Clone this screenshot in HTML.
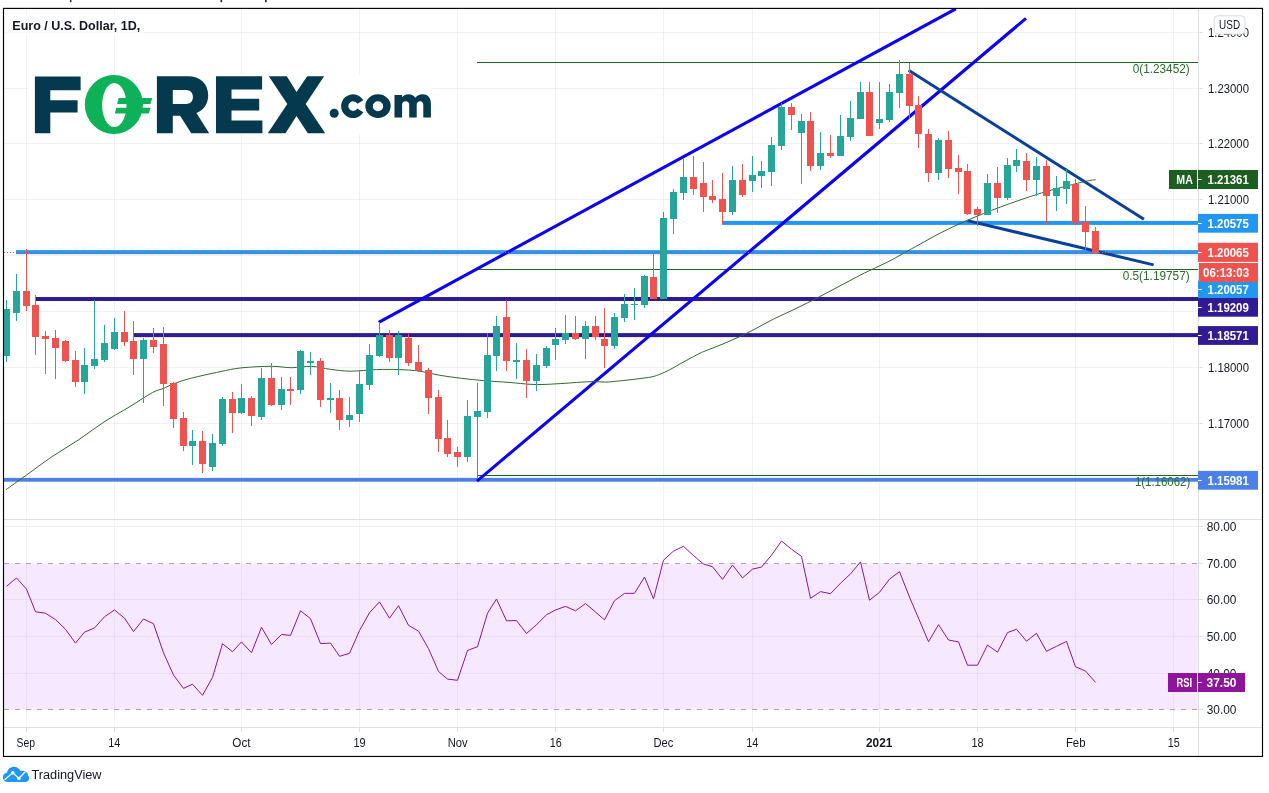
<!DOCTYPE html>
<html><head><meta charset="utf-8"><title>EUR/USD 1D</title>
<style>html,body{margin:0;padding:0;background:#fff}body{width:1269px;height:793px;overflow:hidden;font-family:"Liberation Sans",sans-serif}svg{display:block;will-change:transform;opacity:0.999}</style></head>
<body>
<svg width="1269" height="793" viewBox="0 0 1269 793" font-family="'Liberation Sans', sans-serif">
<rect width="1269" height="793" fill="#fff"/>
<g fill="#222">
<rect x="70" y="0" width="1.4" height="2.2"/>
<rect x="220.5" y="0" width="1.6" height="2.2"/>
<rect x="265" y="0" width="1.6" height="2.2"/>
</g>
<g shape-rendering="crispEdges" fill="#000" fill-opacity="0.055">
<rect x="26" y="9" width="1" height="718"/>
<rect x="114" y="9" width="1" height="718"/>
<rect x="241" y="9" width="1" height="718"/>
<rect x="359" y="9" width="1" height="718"/>
<rect x="457" y="9" width="1" height="718"/>
<rect x="555" y="9" width="1" height="718"/>
<rect x="663" y="9" width="1" height="718"/>
<rect x="752" y="9" width="1" height="718"/>
<rect x="879" y="9" width="1" height="718"/>
<rect x="977" y="9" width="1" height="718"/>
<rect x="1075" y="9" width="1" height="718"/>
<rect x="1173" y="9" width="1" height="718"/>
<rect x="4" y="32" width="1194" height="1"/>
<rect x="4" y="88" width="1194" height="1"/>
<rect x="4" y="143" width="1194" height="1"/>
<rect x="4" y="199" width="1194" height="1"/>
<rect x="4" y="255" width="1194" height="1"/>
<rect x="4" y="311" width="1194" height="1"/>
<rect x="4" y="367" width="1194" height="1"/>
<rect x="4" y="423" width="1194" height="1"/>
<rect x="4" y="479" width="1194" height="1"/>
</g>
<rect x="4" y="563.5" width="1194" height="146" fill="#f5e8ff"/>
<g shape-rendering="crispEdges">
<rect x="4" y="526" width="1194" height="1" fill="#f0f0f3"/>
<rect x="4" y="599" width="1194" height="1" fill="#eadef3"/>
<rect x="4" y="636" width="1194" height="1" fill="#eadef3"/>
<rect x="4" y="673" width="1194" height="1" fill="#eadef3"/>
<rect x="26" y="564" width="1" height="145" fill="#eadef3"/>
<rect x="114" y="564" width="1" height="145" fill="#eadef3"/>
<rect x="241" y="564" width="1" height="145" fill="#eadef3"/>
<rect x="359" y="564" width="1" height="145" fill="#eadef3"/>
<rect x="457" y="564" width="1" height="145" fill="#eadef3"/>
<rect x="555" y="564" width="1" height="145" fill="#eadef3"/>
<rect x="663" y="564" width="1" height="145" fill="#eadef3"/>
<rect x="752" y="564" width="1" height="145" fill="#eadef3"/>
<rect x="879" y="564" width="1" height="145" fill="#eadef3"/>
<rect x="977" y="564" width="1" height="145" fill="#eadef3"/>
<rect x="1075" y="564" width="1" height="145" fill="#eadef3"/>
<rect x="1173" y="564" width="1" height="145" fill="#eadef3"/>
</g>
<line x1="4" y1="563.5" x2="1198" y2="563.5" stroke="#a7a1b1" stroke-width="1" stroke-dasharray="5 6"/>
<line x1="4" y1="709.5" x2="1198" y2="709.5" stroke="#a7a1b1" stroke-width="1" stroke-dasharray="5 6"/>
<rect x="4" y="14" width="140" height="22" fill="#fff" fill-opacity="0.6"/>
<text x="12.3" y="29.8" font-size="12" fill="#131722" font-weight="bold" textLength="128" lengthAdjust="spacingAndGlyphs">Euro / U.S. Dollar, 1D,</text>
<rect x="27.5" y="74.3" width="404.8" height="60" fill="#fff"/>
<g fill="#04394e">
<path d="M34.9,76.4H80.6V90.2H50.3V100.2H77.6V112.6H50.3V133.3H34.9Z"/>
<path fill-rule="evenodd" d="M156.9,76.3H187.5C200.5,76.3 208.2,83.8 208.2,95.3C208.2,103.9 203.9,110 196.4,113L209.2,133.3H191.2L180.1,115.7H172.8V133.3H156.9ZM172.8,90V103.9H186C190.6,103.9 192.9,101 192.9,97C192.9,92.9 190.6,90 186,90Z"/>
<path d="M216,76.3H262.1V89.5H231.5V98.7H259.2V110.5H231.5V120.6H262.4V133.3H216Z"/>
<path d="M268.8,76.3H286.8L296.5,92.1L307.2,76.3H324.1L305.7,103.9L325.2,133.3H307.8L296.5,116.1L285.5,133.3H267.8L287.3,103.9Z"/>
<circle cx="334.2" cy="113.3" r="4.5"/>
<path d="M363.3,100.2A11.9,11.9 0 1 0 363.3,112.2L357.3,108.4A4.8,4.8 0 1 1 357.3,103.8Z"/>
<path fill-rule="evenodd" d="M378,94.2A12.7,11.9 0 1 0 378,118A12.7,11.9 0 1 0 378,94.2ZM378,101.2A5.2,5 0 1 1 378,111.2A5.2,5 0 1 1 378,101.2Z"/>
<path d="M394.5,94.9V117.6H402.1V105C402.1,102.5 403.5,101.3 405.6,101.3C407.8,101.3 409.2,102.5 409.2,105V117.6H416.7V105C416.7,102.5 418.1,101.3 420,101.3C422,101.3 423.3,102.5 423.3,105V117.6H430.9V103.5C430.9,97.5 427.5,94.2 422.5,94.2C419.5,94.2 417,95.5 415.3,97.8C414,95.5 411.5,94.2 408.5,94.2C405.8,94.2 403.5,95.3 402.1,97.2V94.9Z"/>
</g>
<g fill="#0cb158">
<path fill-rule="evenodd" d="M113.9,75.1A29.1,29.4 0 1 0 113.9,133.9A29.1,29.4 0 1 0 113.9,75.1ZM114.3,83.1A12.2,22 0 1 1 114.3,127.1A12.2,22 0 1 1 114.3,83.1Z"/>
<path d="M118.6,98.1H152.2L150.4,104H117.1Z"/>
<path d="M116.3,107.7H150.6L148.8,113.4H114.8Z"/>
</g>
<g shape-rendering="crispEdges" fill="#1e6323">
<rect x="477" y="62" width="721" height="1"/>
<rect x="477" y="269" width="721" height="1"/>
<rect x="477" y="475" width="721" height="1"/>
</g>
<rect x="4" y="477.9" width="1194" height="3.8" fill="#4a80e8"/>
<rect x="36" y="297" width="1162" height="4" fill="#311b92"/>
<rect x="134" y="333.1" width="1064" height="4" fill="#311b92"/>
<rect x="16" y="250.15" width="1182" height="4" fill="#2196f3"/>
<rect x="722" y="220.9" width="476" height="4" fill="#2196f3"/>
<clipPath id="mp"><rect x="4" y="9" width="1194" height="510"/></clipPath>
<g stroke-linecap="butt" fill="none" clip-path="url(#mp)">
<line x1="378.7" y1="322.3" x2="955.8" y2="8.8" stroke="#0a00f5" stroke-width="3.1"/>
<line x1="477" y1="481.1" x2="1026" y2="18.4" stroke="#0a00f5" stroke-width="3.1"/>
<line x1="908.6" y1="70.3" x2="1143.9" y2="219.3" stroke="#0a409c" stroke-width="3"/>
<line x1="967.4" y1="220.6" x2="1153.6" y2="264.9" stroke="#0a409c" stroke-width="3"/>
</g>
<path d="M6.1,489.6C9.42,487.23 18.35,480.88 26,475.4C33.65,469.92 43.33,462.57 52,456.7C60.67,450.83 69.33,445.98 78,440.2C86.67,434.42 95.33,427.62 104,422C112.67,416.38 121.9,411.42 130,406.5C138.1,401.58 147.05,395.5 152.6,392.5C158.15,389.5 159.83,389.93 163.3,388.5C166.77,387.07 168.87,385.58 173.4,383.9C177.93,382.22 182.73,380.43 190.5,378.4C198.27,376.37 211.58,373.45 220,371.7C228.42,369.95 232.45,368.8 241,367.9C249.55,367 262.88,366.33 271.3,366.3C279.72,366.27 284.78,367.68 291.5,367.7C298.22,367.72 305.15,366.13 311.6,366.4C318.05,366.67 323.73,368.5 330.2,369.3C336.67,370.1 342.67,371.15 350.4,371.2C358.13,371.25 368.53,369.87 376.6,369.6C384.67,369.33 391.73,369.37 398.8,369.6C405.87,369.83 412.27,370.07 419,371C425.73,371.93 432.13,373.98 439.2,375.2C446.27,376.42 454,377.4 461.4,378.3C468.8,379.2 475.5,379.9 483.6,380.6C491.7,381.3 502.27,381.88 510,382.5C517.73,383.12 524.17,383.98 530,384.3C535.83,384.62 539.17,384.57 545,384.4C550.83,384.23 559.17,383.67 565,383.3C570.83,382.93 575.13,382.48 580,382.2C584.87,381.92 589.95,381.62 594.2,381.6C598.45,381.58 601.57,382.18 605.5,382.1C609.43,382.02 612.6,381.62 617.8,381.1C623,380.58 631,379.72 636.7,379C642.4,378.28 648.05,377.63 652,376.8C655.95,375.97 657.43,375.18 660.4,374C663.37,372.82 665.87,371.75 669.8,369.7C673.73,367.65 678.97,364.45 684,361.7C689.03,358.95 696.43,355 700,353.2C703.57,351.4 700.72,352.8 705.4,350.9C710.08,349 720.53,345.08 728.1,341.8C735.67,338.52 743.23,334.98 750.8,331.2C758.37,327.42 765.95,322.88 773.5,319.1C781.05,315.32 788.55,312.17 796.1,308.5C803.65,304.83 811.23,301 818.8,297.1C826.37,293.2 833.93,289.1 841.5,285.1C849.07,281.1 856.63,276.88 864.2,273.1C871.77,269.32 879.33,266.27 886.9,262.4C894.47,258.53 904.08,252.93 909.6,249.9C915.12,246.87 914.9,247 920,244.2C925.1,241.4 932.3,237.08 940.2,233.1C948.1,229.12 957.32,224.67 967.4,220.3C977.48,215.93 988.42,211.43 1000.7,206.9C1012.98,202.37 1027.63,197.2 1041.1,193.1C1054.57,189 1072.42,184.55 1081.5,182.3C1090.58,180.05 1093.25,180.05 1095.6,179.6" fill="none" stroke="#2f6b2c" stroke-width="1" stroke-linejoin="round"/>
<g shape-rendering="crispEdges">
<rect x="6" y="300" width="1" height="62" fill="#26a69a"/>
<rect x="4" y="309" width="6" height="47" fill="#26a69a"/>
<rect x="16" y="274" width="1" height="47" fill="#26a69a"/>
<rect x="13" y="291" width="7" height="22" fill="#26a69a"/>
<rect x="26" y="249" width="1" height="62" fill="#ef5350"/>
<rect x="23" y="291" width="7" height="15" fill="#ef5350"/>
<rect x="35" y="295" width="1" height="60" fill="#ef5350"/>
<rect x="32" y="305" width="7" height="32" fill="#ef5350"/>
<rect x="45" y="331" width="1" height="43" fill="#ef5350"/>
<rect x="42" y="336" width="7" height="3" fill="#ef5350"/>
<rect x="55" y="330" width="1" height="49" fill="#ef5350"/>
<rect x="52" y="338" width="7" height="10" fill="#ef5350"/>
<rect x="65" y="340" width="1" height="22" fill="#ef5350"/>
<rect x="62" y="341" width="7" height="20" fill="#ef5350"/>
<rect x="75" y="351" width="1" height="36" fill="#ef5350"/>
<rect x="72" y="360" width="7" height="22" fill="#ef5350"/>
<rect x="84" y="348" width="1" height="46" fill="#26a69a"/>
<rect x="81" y="365" width="7" height="17" fill="#26a69a"/>
<rect x="94" y="300" width="1" height="69" fill="#26a69a"/>
<rect x="91" y="359" width="7" height="7" fill="#26a69a"/>
<rect x="104" y="325" width="1" height="37" fill="#26a69a"/>
<rect x="101" y="343" width="7" height="17" fill="#26a69a"/>
<rect x="114" y="318" width="1" height="32" fill="#26a69a"/>
<rect x="111" y="332" width="7" height="17" fill="#26a69a"/>
<rect x="124" y="311" width="1" height="35" fill="#ef5350"/>
<rect x="121" y="332" width="7" height="10" fill="#ef5350"/>
<rect x="133" y="321" width="1" height="54" fill="#ef5350"/>
<rect x="130" y="341" width="7" height="18" fill="#ef5350"/>
<rect x="143" y="338" width="1" height="65" fill="#26a69a"/>
<rect x="140" y="340" width="7" height="19" fill="#26a69a"/>
<rect x="153" y="328" width="1" height="25" fill="#ef5350"/>
<rect x="150" y="340" width="7" height="7" fill="#ef5350"/>
<rect x="163" y="327" width="1" height="79" fill="#ef5350"/>
<rect x="160" y="344" width="7" height="40" fill="#ef5350"/>
<rect x="173" y="382" width="1" height="46" fill="#ef5350"/>
<rect x="170" y="383" width="7" height="36" fill="#ef5350"/>
<rect x="183" y="412" width="1" height="39" fill="#ef5350"/>
<rect x="180" y="418" width="7" height="28" fill="#ef5350"/>
<rect x="192" y="430" width="1" height="35" fill="#26a69a"/>
<rect x="189" y="441" width="7" height="5" fill="#26a69a"/>
<rect x="202" y="431" width="1" height="42" fill="#ef5350"/>
<rect x="199" y="441" width="7" height="23" fill="#ef5350"/>
<rect x="212" y="434" width="1" height="37" fill="#26a69a"/>
<rect x="209" y="443" width="7" height="24" fill="#26a69a"/>
<rect x="222" y="397" width="1" height="49" fill="#26a69a"/>
<rect x="219" y="399" width="7" height="45" fill="#26a69a"/>
<rect x="232" y="392" width="1" height="41" fill="#ef5350"/>
<rect x="229" y="399" width="7" height="14" fill="#ef5350"/>
<rect x="241" y="384" width="1" height="30" fill="#26a69a"/>
<rect x="238" y="398" width="7" height="15" fill="#26a69a"/>
<rect x="251" y="396" width="1" height="30" fill="#ef5350"/>
<rect x="248" y="398" width="7" height="18" fill="#ef5350"/>
<rect x="261" y="368" width="1" height="52" fill="#26a69a"/>
<rect x="258" y="378" width="7" height="39" fill="#26a69a"/>
<rect x="271" y="363" width="1" height="43" fill="#ef5350"/>
<rect x="268" y="378" width="7" height="27" fill="#ef5350"/>
<rect x="281" y="377" width="1" height="33" fill="#26a69a"/>
<rect x="278" y="389" width="7" height="16" fill="#26a69a"/>
<rect x="290" y="377" width="1" height="28" fill="#ef5350"/>
<rect x="287" y="389" width="7" height="2" fill="#ef5350"/>
<rect x="300" y="350" width="1" height="44" fill="#26a69a"/>
<rect x="297" y="351" width="7" height="39" fill="#26a69a"/>
<rect x="310" y="352" width="1" height="23" fill="#26a69a"/>
<rect x="307" y="361" width="7" height="2" fill="#26a69a"/>
<rect x="320" y="358" width="1" height="49" fill="#ef5350"/>
<rect x="317" y="361" width="7" height="39" fill="#ef5350"/>
<rect x="330" y="383" width="1" height="30" fill="#26a69a"/>
<rect x="327" y="398" width="7" height="2" fill="#26a69a"/>
<rect x="339" y="390" width="1" height="40" fill="#ef5350"/>
<rect x="336" y="398" width="7" height="22" fill="#ef5350"/>
<rect x="349" y="397" width="1" height="30" fill="#26a69a"/>
<rect x="346" y="415" width="7" height="5" fill="#26a69a"/>
<rect x="359" y="370" width="1" height="52" fill="#26a69a"/>
<rect x="356" y="384" width="7" height="30" fill="#26a69a"/>
<rect x="369" y="344" width="1" height="46" fill="#26a69a"/>
<rect x="366" y="355" width="7" height="30" fill="#26a69a"/>
<rect x="379" y="322" width="1" height="35" fill="#26a69a"/>
<rect x="376" y="335" width="7" height="21" fill="#26a69a"/>
<rect x="389" y="330" width="1" height="32" fill="#ef5350"/>
<rect x="386" y="335" width="7" height="23" fill="#ef5350"/>
<rect x="398" y="331" width="1" height="44" fill="#26a69a"/>
<rect x="395" y="335" width="7" height="23" fill="#26a69a"/>
<rect x="408" y="334" width="1" height="32" fill="#ef5350"/>
<rect x="405" y="338" width="7" height="25" fill="#ef5350"/>
<rect x="418" y="345" width="1" height="27" fill="#ef5350"/>
<rect x="415" y="362" width="7" height="9" fill="#ef5350"/>
<rect x="428" y="368" width="1" height="46" fill="#ef5350"/>
<rect x="425" y="370" width="7" height="28" fill="#ef5350"/>
<rect x="438" y="390" width="1" height="62" fill="#ef5350"/>
<rect x="435" y="397" width="7" height="42" fill="#ef5350"/>
<rect x="447" y="420" width="1" height="37" fill="#ef5350"/>
<rect x="444" y="438" width="7" height="16" fill="#ef5350"/>
<rect x="457" y="447" width="1" height="20" fill="#ef5350"/>
<rect x="454" y="452" width="7" height="5" fill="#ef5350"/>
<rect x="467" y="400" width="1" height="62" fill="#26a69a"/>
<rect x="464" y="416" width="7" height="41" fill="#26a69a"/>
<rect x="477" y="383" width="1" height="95" fill="#26a69a"/>
<rect x="474" y="411" width="7" height="6" fill="#26a69a"/>
<rect x="487" y="333" width="1" height="85" fill="#26a69a"/>
<rect x="484" y="355" width="7" height="57" fill="#26a69a"/>
<rect x="496" y="316" width="1" height="55" fill="#26a69a"/>
<rect x="493" y="326" width="7" height="30" fill="#26a69a"/>
<rect x="506" y="300" width="1" height="71" fill="#ef5350"/>
<rect x="503" y="317" width="7" height="44" fill="#ef5350"/>
<rect x="516" y="343" width="1" height="36" fill="#26a69a"/>
<rect x="513" y="360" width="7" height="2" fill="#26a69a"/>
<rect x="526" y="349" width="1" height="49" fill="#ef5350"/>
<rect x="523" y="360" width="7" height="21" fill="#ef5350"/>
<rect x="536" y="354" width="1" height="37" fill="#26a69a"/>
<rect x="533" y="365" width="7" height="16" fill="#26a69a"/>
<rect x="546" y="346" width="1" height="22" fill="#26a69a"/>
<rect x="543" y="348" width="7" height="18" fill="#26a69a"/>
<rect x="555" y="328" width="1" height="32" fill="#26a69a"/>
<rect x="552" y="339" width="7" height="6" fill="#26a69a"/>
<rect x="565" y="315" width="1" height="29" fill="#26a69a"/>
<rect x="562" y="333" width="7" height="7" fill="#26a69a"/>
<rect x="575" y="316" width="1" height="24" fill="#ef5350"/>
<rect x="572" y="333" width="7" height="6" fill="#ef5350"/>
<rect x="585" y="321" width="1" height="38" fill="#26a69a"/>
<rect x="582" y="326" width="7" height="13" fill="#26a69a"/>
<rect x="595" y="316" width="1" height="24" fill="#ef5350"/>
<rect x="592" y="326" width="7" height="11" fill="#ef5350"/>
<rect x="604" y="308" width="1" height="60" fill="#ef5350"/>
<rect x="601" y="339" width="7" height="7" fill="#ef5350"/>
<rect x="614" y="313" width="1" height="36" fill="#26a69a"/>
<rect x="611" y="317" width="7" height="29" fill="#26a69a"/>
<rect x="624" y="294" width="1" height="28" fill="#26a69a"/>
<rect x="621" y="304" width="7" height="14" fill="#26a69a"/>
<rect x="634" y="288" width="1" height="32" fill="#26a69a"/>
<rect x="631" y="304" width="7" height="1" fill="#26a69a"/>
<rect x="644" y="275" width="1" height="33" fill="#26a69a"/>
<rect x="641" y="276" width="7" height="29" fill="#26a69a"/>
<rect x="653" y="252" width="1" height="47" fill="#ef5350"/>
<rect x="650" y="277" width="7" height="22" fill="#ef5350"/>
<rect x="663" y="212" width="1" height="87" fill="#26a69a"/>
<rect x="660" y="218" width="7" height="81" fill="#26a69a"/>
<rect x="673" y="189" width="1" height="45" fill="#26a69a"/>
<rect x="670" y="192" width="7" height="27" fill="#26a69a"/>
<rect x="683" y="159" width="1" height="41" fill="#26a69a"/>
<rect x="680" y="177" width="7" height="16" fill="#26a69a"/>
<rect x="693" y="156" width="1" height="39" fill="#ef5350"/>
<rect x="690" y="177" width="7" height="12" fill="#ef5350"/>
<rect x="703" y="162" width="1" height="50" fill="#ef5350"/>
<rect x="700" y="183" width="7" height="14" fill="#ef5350"/>
<rect x="712" y="180" width="1" height="23" fill="#ef5350"/>
<rect x="709" y="196" width="7" height="4" fill="#ef5350"/>
<rect x="722" y="173" width="1" height="51" fill="#ef5350"/>
<rect x="719" y="199" width="7" height="13" fill="#ef5350"/>
<rect x="732" y="166" width="1" height="49" fill="#26a69a"/>
<rect x="729" y="180" width="7" height="32" fill="#26a69a"/>
<rect x="742" y="164" width="1" height="33" fill="#ef5350"/>
<rect x="739" y="180" width="7" height="15" fill="#ef5350"/>
<rect x="752" y="156" width="1" height="36" fill="#26a69a"/>
<rect x="749" y="175" width="7" height="6" fill="#26a69a"/>
<rect x="761" y="161" width="1" height="27" fill="#26a69a"/>
<rect x="758" y="171" width="7" height="5" fill="#26a69a"/>
<rect x="771" y="137" width="1" height="49" fill="#26a69a"/>
<rect x="768" y="145" width="7" height="27" fill="#26a69a"/>
<rect x="781" y="103" width="1" height="47" fill="#26a69a"/>
<rect x="778" y="107" width="7" height="39" fill="#26a69a"/>
<rect x="791" y="103" width="1" height="27" fill="#ef5350"/>
<rect x="788" y="107" width="7" height="8" fill="#ef5350"/>
<rect x="801" y="114" width="1" height="70" fill="#26a69a"/>
<rect x="798" y="121" width="7" height="12" fill="#26a69a"/>
<rect x="810" y="112" width="1" height="59" fill="#ef5350"/>
<rect x="807" y="121" width="7" height="45" fill="#ef5350"/>
<rect x="820" y="132" width="1" height="38" fill="#26a69a"/>
<rect x="817" y="153" width="7" height="13" fill="#26a69a"/>
<rect x="830" y="135" width="1" height="23" fill="#ef5350"/>
<rect x="827" y="153" width="7" height="3" fill="#ef5350"/>
<rect x="840" y="115" width="1" height="41" fill="#26a69a"/>
<rect x="837" y="136" width="7" height="20" fill="#26a69a"/>
<rect x="850" y="101" width="1" height="40" fill="#26a69a"/>
<rect x="847" y="118" width="7" height="19" fill="#26a69a"/>
<rect x="860" y="82" width="1" height="37" fill="#26a69a"/>
<rect x="857" y="92" width="7" height="27" fill="#26a69a"/>
<rect x="869" y="82" width="1" height="54" fill="#ef5350"/>
<rect x="866" y="92" width="7" height="44" fill="#ef5350"/>
<rect x="879" y="82" width="1" height="47" fill="#26a69a"/>
<rect x="876" y="119" width="7" height="4" fill="#26a69a"/>
<rect x="889" y="84" width="1" height="38" fill="#26a69a"/>
<rect x="886" y="92" width="7" height="28" fill="#26a69a"/>
<rect x="899" y="60" width="1" height="48" fill="#26a69a"/>
<rect x="896" y="74" width="7" height="19" fill="#26a69a"/>
<rect x="909" y="63" width="1" height="56" fill="#ef5350"/>
<rect x="906" y="74" width="7" height="32" fill="#ef5350"/>
<rect x="918" y="96" width="1" height="52" fill="#ef5350"/>
<rect x="915" y="105" width="7" height="29" fill="#ef5350"/>
<rect x="928" y="129" width="1" height="53" fill="#ef5350"/>
<rect x="925" y="134" width="7" height="39" fill="#ef5350"/>
<rect x="938" y="138" width="1" height="42" fill="#26a69a"/>
<rect x="935" y="140" width="7" height="33" fill="#26a69a"/>
<rect x="948" y="131" width="1" height="47" fill="#ef5350"/>
<rect x="945" y="140" width="7" height="29" fill="#ef5350"/>
<rect x="958" y="155" width="1" height="39" fill="#ef5350"/>
<rect x="955" y="168" width="7" height="4" fill="#ef5350"/>
<rect x="967" y="164" width="1" height="51" fill="#ef5350"/>
<rect x="964" y="171" width="7" height="43" fill="#ef5350"/>
<rect x="977" y="207" width="1" height="19" fill="#ef5350"/>
<rect x="974" y="209" width="7" height="6" fill="#ef5350"/>
<rect x="987" y="174" width="1" height="41" fill="#26a69a"/>
<rect x="984" y="183" width="7" height="32" fill="#26a69a"/>
<rect x="997" y="167" width="1" height="46" fill="#ef5350"/>
<rect x="994" y="183" width="7" height="15" fill="#ef5350"/>
<rect x="1007" y="158" width="1" height="42" fill="#26a69a"/>
<rect x="1004" y="165" width="7" height="33" fill="#26a69a"/>
<rect x="1016" y="149" width="1" height="23" fill="#26a69a"/>
<rect x="1013" y="160" width="7" height="6" fill="#26a69a"/>
<rect x="1026" y="153" width="1" height="38" fill="#ef5350"/>
<rect x="1023" y="161" width="7" height="19" fill="#ef5350"/>
<rect x="1036" y="157" width="1" height="39" fill="#26a69a"/>
<rect x="1033" y="166" width="7" height="14" fill="#26a69a"/>
<rect x="1046" y="160" width="1" height="64" fill="#ef5350"/>
<rect x="1043" y="166" width="7" height="30" fill="#ef5350"/>
<rect x="1056" y="176" width="1" height="35" fill="#26a69a"/>
<rect x="1053" y="188" width="7" height="8" fill="#26a69a"/>
<rect x="1066" y="168" width="1" height="36" fill="#26a69a"/>
<rect x="1063" y="181" width="7" height="8" fill="#26a69a"/>
<rect x="1075" y="179" width="1" height="46" fill="#ef5350"/>
<rect x="1072" y="184" width="7" height="39" fill="#ef5350"/>
<rect x="1085" y="206" width="1" height="44" fill="#ef5350"/>
<rect x="1082" y="222" width="7" height="10" fill="#ef5350"/>
<rect x="1095" y="227" width="1" height="27" fill="#ef5350"/>
<rect x="1092" y="231" width="7" height="22" fill="#ef5350"/>
</g>
<line x1="4" y1="252.5" x2="1198" y2="252.5" stroke="#ef5350" stroke-width="1" stroke-dasharray="1 2"/>
<text x="1189.7" y="73.2" font-size="12" fill="#2a6d2f" text-anchor="end" textLength="57" lengthAdjust="spacingAndGlyphs">0(1.23452)</text>
<text x="1189.7" y="280.2" font-size="12" fill="#2a6d2f" text-anchor="end" textLength="67" lengthAdjust="spacingAndGlyphs">0.5(1.19757)</text>
<text x="1190.2" y="486.3" font-size="12" fill="#2a6d2f" text-anchor="end" textLength="55.3" lengthAdjust="spacingAndGlyphs">1(1.16062)</text>
<polyline points="6.5,586.3 16.5,578 26.5,589.1 35.5,611.8 45.5,613.2 55.5,619.6 65.5,629.3 75.5,643.1 84.5,632.1 94.5,627.9 104.5,616.8 114.5,609.9 124.5,618.2 133.5,631.5 143.5,619 153.5,623.7 163.5,652.9 173.5,675 183.5,688.4 192.5,684.2 202.5,695.3 212.5,677.4 222.5,643.8 232.5,651.7 241.5,641.9 251.5,652.7 261.5,627.3 271.5,644.5 281.5,634.5 290.5,635.4 300.5,610.8 310.5,618.7 320.5,643.6 330.5,643.1 339.5,656.3 349.5,653.4 359.5,630.6 369.5,612.7 379.5,601.9 389.5,618.2 398.5,605.7 408.5,625.4 418.5,631.1 428.5,648.6 438.5,671.4 447.5,679.1 457.5,680.3 467.5,650.5 477.5,646.7 487.5,613.2 496.5,599 506.5,620.8 516.5,620.6 526.5,633.5 536.5,624.7 546.5,614.8 555.5,610 565.5,606.4 575.5,610.8 585.5,603.6 595.5,612 604.5,619.9 614.5,600.7 624.5,593.4 634.5,593.3 644.5,577 653.5,598.8 663.5,560.2 673.5,551.1 683.5,546.3 693.5,555.6 703.5,564 712.5,566.7 722.5,579.4 732.5,565 742.5,577.9 752.5,569.1 761.5,567.1 771.5,555.2 781.5,541 791.5,549.2 801.5,556.4 810.5,598.3 820.5,591.6 830.5,593.7 840.5,583.2 850.5,573.9 860.5,561.9 869.5,600.2 879.5,592.3 889.5,579.1 899.5,571.7 909.5,597.1 918.5,618.2 928.5,641.7 938.5,624.7 948.5,640 958.5,641.9 967.5,665.2 977.5,665.2 987.5,645 997.5,652.2 1007.5,632.6 1016.5,629.2 1026.5,641.2 1036.5,633.3 1046.5,651.3 1056.5,646.3 1066.5,641.4 1075.5,666.8 1085.5,671 1095.5,682.4" fill="none" stroke="#8e1599" stroke-width="1" stroke-linejoin="round"/>
<g shape-rendering="crispEdges" fill="#dfdfe2">
<rect x="4" y="519" width="1259" height="1"/>
<rect x="4" y="727" width="1259" height="1"/>
<rect x="1198" y="9" width="1" height="747"/>
<rect x="1199" y="32" width="4" height="1"/>
<rect x="1199" y="88" width="4" height="1"/>
<rect x="1199" y="143" width="4" height="1"/>
<rect x="1199" y="199" width="4" height="1"/>
<rect x="1199" y="367" width="4" height="1"/>
<rect x="1199" y="423" width="4" height="1"/>
<rect x="1199" y="526" width="4" height="1"/>
<rect x="1199" y="563" width="4" height="1"/>
<rect x="1199" y="599" width="4" height="1"/>
<rect x="1199" y="636" width="4" height="1"/>
<rect x="1199" y="709" width="4" height="1"/>
<rect x="26" y="728" width="1" height="4"/>
<rect x="114" y="728" width="1" height="4"/>
<rect x="241" y="728" width="1" height="4"/>
<rect x="359" y="728" width="1" height="4"/>
<rect x="457" y="728" width="1" height="4"/>
<rect x="555" y="728" width="1" height="4"/>
<rect x="663" y="728" width="1" height="4"/>
<rect x="752" y="728" width="1" height="4"/>
<rect x="879" y="728" width="1" height="4"/>
<rect x="977" y="728" width="1" height="4"/>
<rect x="1075" y="728" width="1" height="4"/>
<rect x="1173" y="728" width="1" height="4"/>
</g>
<text x="1208" y="36.8" font-size="12" fill="#131722" textLength="41" lengthAdjust="spacingAndGlyphs">1.24000</text>
<text x="1208" y="92.8" font-size="12" fill="#131722" textLength="41" lengthAdjust="spacingAndGlyphs">1.23000</text>
<text x="1208" y="147.9" font-size="12" fill="#131722" textLength="41" lengthAdjust="spacingAndGlyphs">1.22000</text>
<text x="1208" y="203.7" font-size="12" fill="#131722" textLength="41" lengthAdjust="spacingAndGlyphs">1.21000</text>
<text x="1208" y="371.6" font-size="12" fill="#131722" textLength="41" lengthAdjust="spacingAndGlyphs">1.18000</text>
<text x="1208" y="427.8" font-size="12" fill="#131722" textLength="41" lengthAdjust="spacingAndGlyphs">1.17000</text>
<text x="1206.7" y="530.9" font-size="12" fill="#131722" textLength="29.8" lengthAdjust="spacingAndGlyphs">80.00</text>
<text x="1206.7" y="567.8" font-size="12" fill="#131722" textLength="29.8" lengthAdjust="spacingAndGlyphs">70.00</text>
<text x="1206.7" y="604.3" font-size="12" fill="#131722" textLength="29.8" lengthAdjust="spacingAndGlyphs">60.00</text>
<text x="1206.7" y="641.1" font-size="12" fill="#131722" textLength="29.8" lengthAdjust="spacingAndGlyphs">50.00</text>
<text x="1206.7" y="677.5" font-size="12" fill="#131722" textLength="29.8" lengthAdjust="spacingAndGlyphs">40.00</text>
<text x="1206.7" y="714" font-size="12" fill="#131722" textLength="29.8" lengthAdjust="spacingAndGlyphs">30.00</text>
<rect x="1214.2" y="15.8" width="30.8" height="18.3" rx="4" fill="#fff" stroke="#d6d9e0" stroke-width="1"/>
<text x="1229.6" y="28.9" font-size="12" fill="#131722" text-anchor="middle" textLength="21" lengthAdjust="spacingAndGlyphs">USD</text>
<text x="25.8" y="747.3" font-size="12" fill="#131722" text-anchor="middle" textLength="18.5" lengthAdjust="spacingAndGlyphs">Sep</text>
<text x="114.3" y="747.3" font-size="12" fill="#131722" text-anchor="middle" textLength="12.2" lengthAdjust="spacingAndGlyphs">14</text>
<text x="241.4" y="747.3" font-size="12" fill="#131722" text-anchor="middle" textLength="18.2" lengthAdjust="spacingAndGlyphs">Oct</text>
<text x="359.5" y="747.3" font-size="12" fill="#131722" text-anchor="middle" textLength="12.2" lengthAdjust="spacingAndGlyphs">19</text>
<text x="457.7" y="747.3" font-size="12" fill="#131722" text-anchor="middle" textLength="19.9" lengthAdjust="spacingAndGlyphs">Nov</text>
<text x="555.7" y="747.3" font-size="12" fill="#131722" text-anchor="middle" textLength="12" lengthAdjust="spacingAndGlyphs">16</text>
<text x="663.4" y="747.3" font-size="12" fill="#131722" text-anchor="middle" textLength="19.9" lengthAdjust="spacingAndGlyphs">Dec</text>
<text x="752.2" y="747.3" font-size="12" fill="#131722" text-anchor="middle" textLength="12" lengthAdjust="spacingAndGlyphs">14</text>
<text x="879.2" y="747.3" font-size="12" fill="#131722" text-anchor="middle" font-weight="bold" textLength="26.3" lengthAdjust="spacingAndGlyphs">2021</text>
<text x="977.6" y="747.3" font-size="12" fill="#131722" text-anchor="middle" textLength="12.2" lengthAdjust="spacingAndGlyphs">18</text>
<text x="1075.7" y="747.3" font-size="12" fill="#131722" text-anchor="middle" textLength="19.6" lengthAdjust="spacingAndGlyphs">Feb</text>
<text x="1173.8" y="747.3" font-size="12" fill="#131722" text-anchor="middle" textLength="12" lengthAdjust="spacingAndGlyphs">15</text>
<rect x="1169" y="170" width="28" height="19" fill="#1b5e20"/>
<text x="1184.6" y="184" font-size="12" fill="#fff" text-anchor="middle" font-weight="bold" textLength="16.5" lengthAdjust="spacingAndGlyphs">MA</text>
<rect x="1198" y="170" width="60" height="19" fill="#1b5e20"/>
<rect x="1198" y="179" width="3.7" height="1" fill="#fff"/>
<text x="1207.6" y="184.04" font-size="12.4" fill="#fff" font-weight="bold" textLength="41.2" lengthAdjust="spacingAndGlyphs">1.21361</text>
<rect x="1198" y="213.9" width="60" height="18.8" fill="#2196f3"/>
<rect x="1198" y="223" width="3.7" height="1" fill="#fff"/>
<text x="1207.6" y="227.84" font-size="12.4" fill="#fff" font-weight="bold" textLength="41.2" lengthAdjust="spacingAndGlyphs">1.20575</text>
<rect x="1198" y="242.8" width="60" height="19.1" fill="#ef5350"/>
<rect x="1198" y="252" width="3.7" height="1" fill="#fff"/>
<text x="1207.6" y="256.89" font-size="12.4" fill="#fff" font-weight="bold" textLength="41.2" lengthAdjust="spacingAndGlyphs">1.20065</text>
<rect x="1198" y="280.5" width="60" height="18.5" fill="#2196f3"/>
<rect x="1198" y="289" width="3.7" height="1" fill="#fff"/>
<text x="1207.6" y="294.29" font-size="12.4" fill="#fff" font-weight="bold" textLength="41.2" lengthAdjust="spacingAndGlyphs">1.20057</text>
<rect x="1199" y="263" width="59" height="19" fill="#ef5350"/>
<text x="1203" y="277.04" font-size="12.4" fill="#fff" font-weight="bold" textLength="46.2" lengthAdjust="spacingAndGlyphs">06:13:03</text>
<rect x="1198" y="262" width="60" height="1" fill="#fff"/>
<rect x="1198" y="298" width="60" height="18.7" fill="#311b92"/>
<rect x="1198" y="307" width="3.7" height="1" fill="#fff"/>
<text x="1207.6" y="311.89" font-size="12.4" fill="#fff" font-weight="bold" textLength="41.2" lengthAdjust="spacingAndGlyphs">1.19209</text>
<rect x="1198" y="326.1" width="60" height="18.8" fill="#311b92"/>
<rect x="1198" y="335" width="3.7" height="1" fill="#fff"/>
<text x="1207.6" y="340.04" font-size="12.4" fill="#fff" font-weight="bold" textLength="41.2" lengthAdjust="spacingAndGlyphs">1.18571</text>
<rect x="1198" y="470.9" width="60" height="18.8" fill="#4a80e8"/>
<rect x="1198" y="480" width="3.7" height="1" fill="#fff"/>
<text x="1207.6" y="484.84" font-size="12.4" fill="#fff" font-weight="bold" textLength="41.2" lengthAdjust="spacingAndGlyphs">1.15981</text>
<rect x="1168" y="673" width="29" height="19" fill="#8e1599"/>
<text x="1184.2" y="687" font-size="12" fill="#fff" text-anchor="middle" font-weight="bold" textLength="15.6" lengthAdjust="spacingAndGlyphs">RSI</text>
<rect x="1198" y="673" width="47" height="19" fill="#8e1599"/>
<rect x="1198" y="682" width="3.7" height="1" fill="#fff"/>
<text x="1206.5" y="687.04" font-size="12.4" fill="#fff" font-weight="bold" textLength="30" lengthAdjust="spacingAndGlyphs">37.50</text>
<rect x="3.5" y="8.4" width="1259" height="748.05" fill="none" stroke="#000" stroke-width="1.15"/>
<g>
<path fill="#2196f3" d="M8.2,782C5.2,782 2.9,779.9 2.9,777.2C2.9,774.8 4.7,772.8 7.1,772.5C7.6,769.2 10.5,766.8 14,766.8C16.9,766.8 19.4,768.5 20.5,771C21.1,770.8 21.8,770.7 22.5,770.7C25.6,770.7 28.1,773 28.4,775.9C29,776.6 29.2,777.5 29.2,778.3C29.2,780.4 27.5,782 25.4,782Z"/>
<polyline points="4.6,779.8 12.8,772.8 18.9,778.4 25.2,771.8" fill="none" stroke="#fff" stroke-width="1.3"/>
<circle cx="12.8" cy="772.8" r="1.7" fill="#fff"/><circle cx="18.9" cy="778.4" r="1.7" fill="#fff"/>
</g>
<text x="31.4" y="778.88" font-size="12.5" fill="#131722" textLength="70.2" lengthAdjust="spacingAndGlyphs">TradingView</text>
</svg>
</body></html>
